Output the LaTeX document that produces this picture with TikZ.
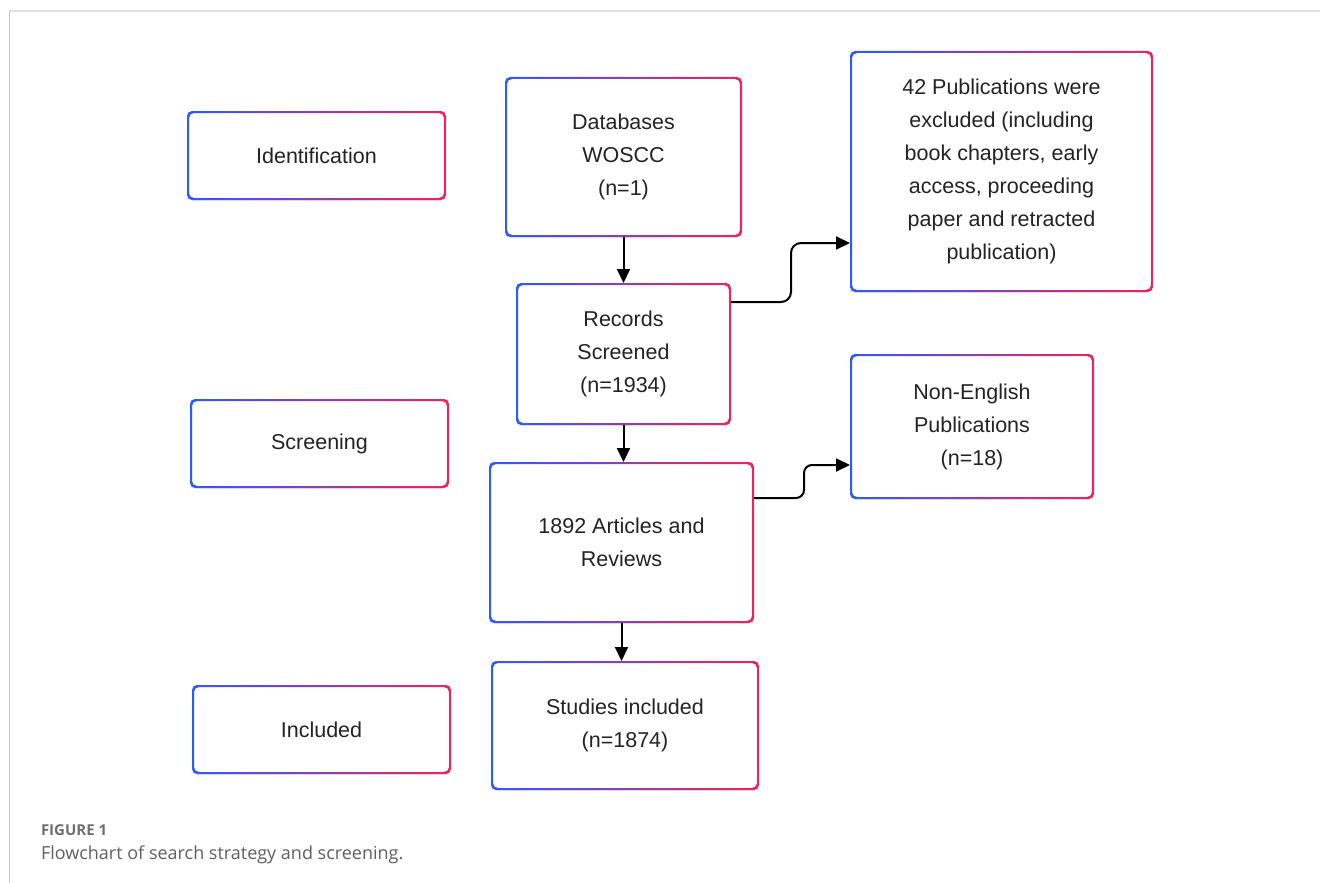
\documentclass[tikz,border=0pt]{standalone}
\usepackage{fontspec}
\setmainfont{Liberation Sans}
\newfontfamily\captionfont{Open Sans}
\usetikzlibrary{arrows.meta,shadows}
\definecolor{edgeBlue}{RGB}{45,90,255}
\definecolor{edgeRed}{RGB}{240,35,90}
\definecolor{boxText}{RGB}{35,35,35}
\definecolor{frameGray}{RGB}{224,224,224}
\definecolor{sideGray}{RGB}{200,200,200}
\definecolor{labelGray}{RGB}{110,110,110}
\definecolor{captionGray}{RGB}{95,95,95}
\tikzset{
    every picture/.style={
        line width=2pt
    },
    % Style for the rounded boxes
    flow box/.style={
        fill=white, rounded corners=5pt,
        align=center, inner sep=0pt,
        text=boxText, font=\fontsize{21.5}{33}\selectfont,
        drop shadow={opacity=0.15, shadow xshift=0pt, shadow yshift=-2pt}
    },
    % Style for the connectors
    flow arrow/.style={
        -{Triangle[length=14pt,width=13pt]},
        rounded corners=10pt
    },
    caption text/.style={
        anchor=base west, inner sep=0pt
    }
}

\begin{document}
\begin{tikzpicture}[x=1pt,y=-1pt]

% Set the canvas size
\path[use as bounding box] (0,0) rectangle (1320,883);

% Draw the page frame
\draw[frameGray, line width=2.5pt] (9,11) -- (1320,11);
\draw[sideGray, line width=1.5pt] (9.5,11) -- (9.5,883);

% Stage labels on the left
\node[flow box, minimum width=257pt, minimum height=87pt] (ident) at (316.5,155.5) {Identification};
\node[flow box, minimum width=257pt, minimum height=87pt] (screen) at (319.5,443.5) {Screening};
\node[flow box, minimum width=257pt, minimum height=87pt] (incl) at (321.5,729.5) {Included};

% Main column
\node[flow box, minimum width=235pt, minimum height=158pt] (db) at (623.5,157) {Databases\\WOSCC\\(n=1)};
\node[flow box, minimum width=213pt, minimum height=140pt] (rec) at (623.5,354) {Records\\Screened\\(n=1934)};
\node[flow box, minimum width=263pt, minimum height=159pt] (art) at (621.5,542.5) {1892 Articles and\\Reviews};
\node[flow box, minimum width=266pt, minimum height=127pt] (stud) at (625,725.5) {Studies included\\(n=1874)};

% Excluded records
\node[flow box, minimum width=301pt, minimum height=239pt] (excl) at (1001.5,171.5) {42 Publications were\\excluded (including\\book chapters, early\\access, proceeding\\paper and retracted\\publication)};
\node[flow box, minimum width=242pt, minimum height=143pt] (nonen) at (972,426.5) {Non-English\\Publications\\(n=18)};

% Gradient borders
\foreach \n in {ident,screen,incl,db,rec,art,stud,excl,nonen}
  \shade[left color=edgeBlue, right color=edgeRed, even odd rule, rounded corners=5pt]
    (\n.south west) rectangle (\n.north east)
    ([shift={(2pt,2pt)}]\n.south west) rectangle ([shift={(-2pt,-2pt)}]\n.north east);

% Draw all connectors
\draw[flow arrow] (db.south) -- (rec.north);
\draw[flow arrow] (rec.south) -- (rec.south |- art.north);
\draw[flow arrow] (art.south) -- (art.south |- stud.north);
\draw[flow arrow] ([yshift=52pt]rec.east) -- ++(60,0) |- ([yshift=-71.5pt]excl.west);
\draw[flow arrow, rounded corners=8pt] ([yshift=44.5pt]art.east) -- ++(50,0) |- ([yshift=-38.5pt]nonen.west);

% Caption
\node[caption text, text=labelGray, font=\captionfont\bfseries\fontsize{15}{18}\selectfont] (figlabel) at (40,835) {FIGURE 1};
\node[caption text, text=captionGray, font=\captionfont\fontsize{18}{22}\selectfont] (figcap) at (40,859) {Flowchart of search strategy and screening.};

\end{tikzpicture}
\end{document}
